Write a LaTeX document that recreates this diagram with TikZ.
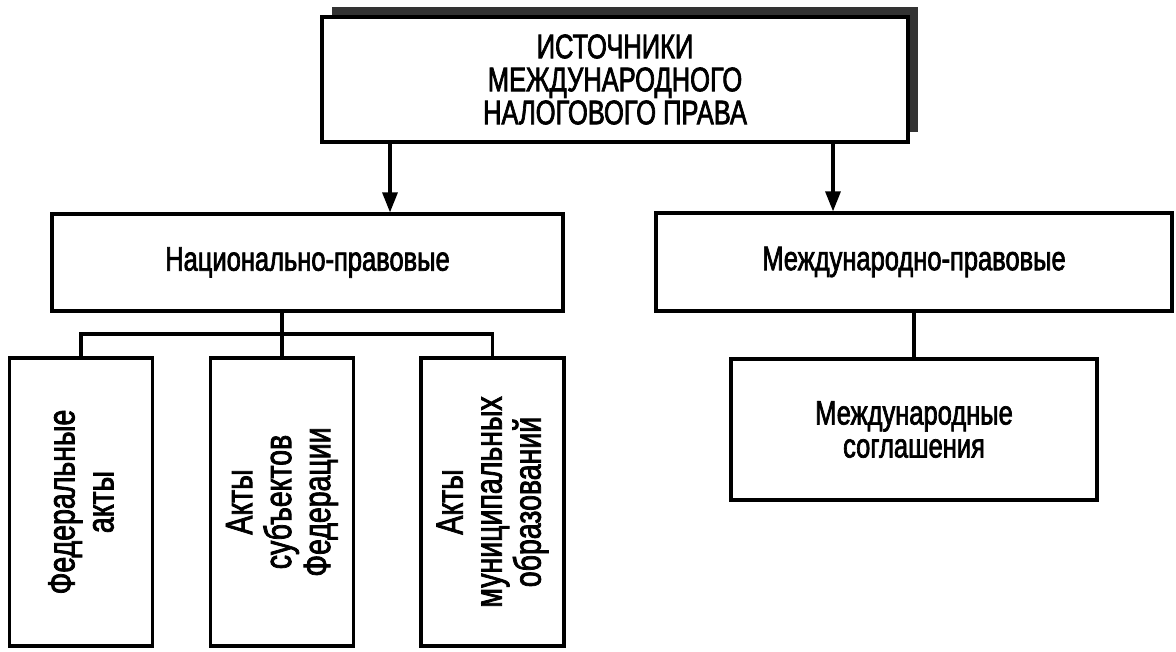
\documentclass[tikz,border=0pt]{standalone}
\usepackage{fontspec}
\setmainfont[FakeStretch=0.75,FakeBold=2]{Liberation Sans}
\usepackage{tikz}
\usetikzlibrary{arrows.meta}

\begin{document}
\begin{tikzpicture}[x=0.5pt,y=-0.5pt,line width=1.6pt,
    box/.style={draw,fill=white,align=center,inner sep=0pt,font=\fontsize{17}{16.5}\selectfont},
    vbox/.style={box,rotate=90,minimum width=144pt,minimum height=71.5pt,font=\fontsize{19}{19.5}\selectfont},
    arr/.style={-{Triangle[length=10pt,width=7.5pt]}}]
                 \useasboundingbox (0,0) rectangle (1176,652);
                 % top block with its shadow
                 \fill[black!80] (332,7) rectangle (918,132);
                 \node[box,minimum width=293pt,minimum height=62.5pt](src)at(615,79.5){ИСТОЧНИКИ\\МЕЖДУНАРОДНОГО\\НАЛОГОВОГО ПРАВА};
                 \node[box,minimum width=255.5pt,minimum height=48.5pt](nat)at(307.5,262.5){Национально-правовые};
                 \node[box,minimum width=258pt,minimum height=49pt](intl)at(914,262){Международно-правовые};
                 \draw[arr](src.south -| 390,0)--(nat.north -| 390,0);
                 \draw[arr](src.south -| 833,0)--(intl.north -| 833,0);
                 % national acts
                 \node[vbox](fed)at(81,502){Федеральные\\акты};
                 \node[vbox](subj)at(282,502){Акты\\субъектов\\Федерации};
                 \node[vbox](mun)at(492.5,502){Акты\\муниципальных\\образований};
                 \coordinate(bus)at(282,334);
                 \draw(nat.south -| subj.east)--(subj.east);
                 \draw(fed.east)|-(bus)-|(mun.east);
                 % international acts
                 \node[box,minimum width=183pt,minimum height=70.5pt](agr)at(914,429.5){Международные\\соглашения};
                 \draw(intl.south)--(intl.south |- agr.north);
               \end{tikzpicture}
\end{document}
